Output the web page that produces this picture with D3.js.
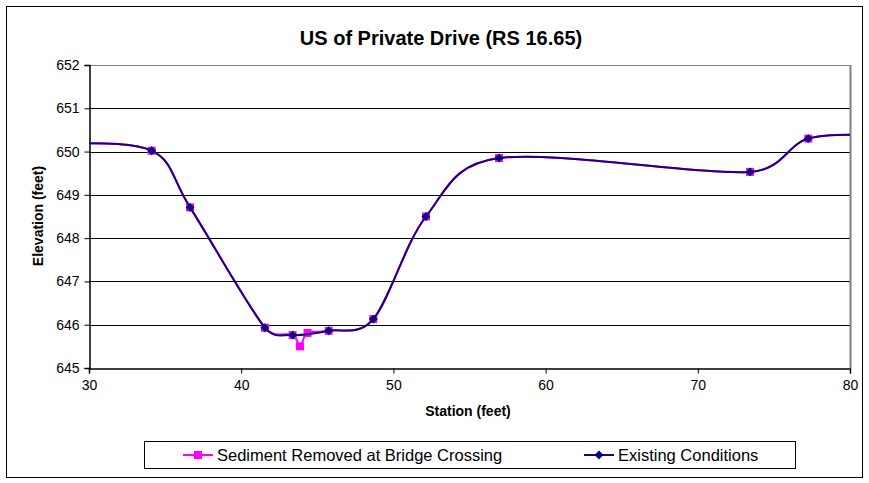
<!DOCTYPE html>
<html>
<head>
<meta charset="utf-8">
<script src="https://cdn.jsdelivr.net/npm/d3@7"></script>
<style>
  body { margin: 0; background: #fff; }
  text { font-family: "Liberation Sans", Arial, sans-serif; fill: #000; }
</style>
</head>
<body>
<div id="chart"></div>
<script>
// Series values (points outside 30-80 are clipped, like the original)
var sedimentStation = [28, 34.12, 36.64, 41.56, 43.38, 43.86, 44.36, 45.75, 48.68, 52.14, 56.94, 73.43, 77.26, 82];
var sedimentElev    = [650.2, 650.02, 648.71, 645.93, 645.76, 645.5, 645.81, 645.86, 646.13, 648.5, 649.85, 649.53, 650.3, 650.38];
var existingStation = [28, 34.12, 36.64, 41.56, 43.38, 45.75, 48.68, 52.14, 56.94, 73.43, 77.26, 82];
var existingElev    = [650.2, 650.02, 648.71, 645.93, 645.76, 645.86, 646.13, 648.5, 649.85, 649.53, 650.3, 650.38];
var xTicks = [30, 40, 50, 60, 70, 80];
var yTicks = [645, 646, 647, 648, 649, 650, 651, 652];
var seriesNames = ["Sediment Removed at Bridge Crossing", "Existing Conditions"];

var W = 869, H = 483;
var plot = { left: 89, right: 850, top: 65, bottom: 368 };

var svg = d3.select("#chart").append("svg")
  .attr("width", W)
  .attr("height", H);

// outer chart border
svg.append("rect")
  .attr("x", 6.5).attr("y", 6.5)
  .attr("width", 856).attr("height", 471)
  .attr("fill", "#fff")
  .attr("stroke", "#000")
  .attr("stroke-width", 1);

var x = d3.scaleLinear().domain([30, 80]).range([plot.left, plot.right]);
var y = d3.scaleLinear().domain([645, 652]).range([plot.bottom, plot.top]);

// gridlines
svg.append("g")
  .selectAll("line")
  .data(yTicks.slice(1))
  .enter().append("line")
  .attr("x1", plot.left).attr("x2", plot.right)
  .attr("y1", function(d) { return Math.round(y(d)) + 0.5; })
  .attr("y2", function(d) { return Math.round(y(d)) + 0.5; })
  .attr("stroke", function(d) { return d === 652 ? "#808080" : "#000"; })
  .attr("stroke-width", 1);

// right border of plot area
svg.append("line")
  .attr("x1", plot.right + 0.5).attr("x2", plot.right + 0.5)
  .attr("y1", plot.top).attr("y2", plot.bottom)
  .attr("stroke", "#808080")
  .attr("stroke-width", 2);

// axes
var xAxis = d3.axisBottom(x).tickValues(xTicks).tickSize(5).tickPadding(7);
var yAxis = d3.axisLeft(y).tickValues(yTicks).tickFormat(d3.format("d")).tickSize(5).tickPadding(5);

var gx = svg.append("g")
  .attr("transform", "translate(0," + (plot.bottom + 0.5) + ")")
  .call(xAxis);
var gy = svg.append("g")
  .attr("transform", "translate(" + (plot.left + 0.5) + ",0)")
  .call(yAxis);

[gx, gy].forEach(function(g) {
  g.selectAll("path, line").attr("stroke", "#000");
  g.selectAll("text")
    .style("font-family", "'Liberation Sans', Arial, sans-serif")
    .style("font-size", "14px")
    .attr("fill", "#000");
});
gx.select(".domain").attr("stroke-width", 1.5);
gy.select(".domain").attr("stroke-width", 1.5);

// clip the curves to the plot area
svg.append("clipPath").attr("id", "clip")
  .append("rect")
  .attr("x", plot.left).attr("y", plot.top - 2)
  .attr("width", plot.right - plot.left).attr("height", plot.bottom - plot.top + 4);

// Excel-style smoothed line: bezier arms of (next - prev) / 6,
// shortened to half the segment when the segment is short
function smoothPath(data) {
  var p = data.map(function(d) { return [x(d[0]), y(d[1])]; });
  var path = d3.path();
  function arm(i, seg) {
    var a = p[Math.max(i - 1, 0)], b = p[Math.min(i + 1, p.length - 1)];
    var dx = (b[0] - a[0]) / 6, dy = (b[1] - a[1]) / 6;
    var len = Math.hypot(dx, dy);
    if (len > seg / 2) { dx *= seg / 2 / len; dy *= seg / 2 / len; }
    return [dx, dy];
  }
  path.moveTo(p[0][0], p[0][1]);
  for (var i = 0; i < p.length - 1; i++) {
    var seg = Math.hypot(p[i + 1][0] - p[i][0], p[i + 1][1] - p[i][1]);
    var a1 = arm(i, seg), a2 = arm(i + 1, seg);
    path.bezierCurveTo(p[i][0] + a1[0], p[i][1] + a1[1],
      p[i + 1][0] - a2[0], p[i + 1][1] - a2[1],
      p[i + 1][0], p[i + 1][1]);
  }
  return path.toString();
}

var sediment = d3.zip(sedimentStation, sedimentElev);
var existing = d3.zip(existingStation, existingElev);

var plotG = svg.append("g").attr("clip-path", "url(#clip)");

plotG.append("path")
  .attr("d", smoothPath(sediment))
  .attr("fill", "none")
  .attr("stroke", "#ff00ff")
  .attr("stroke-width", 2);

plotG.selectAll(".sq")
  .data(sediment)
  .enter().append("rect")
  .attr("class", "sq")
  .attr("x", function(d) { return x(d[0]) - 4; })
  .attr("y", function(d) { return y(d[1]) - 4; })
  .attr("width", 8).attr("height", 8)
  .attr("fill", "#ff00ff");

plotG.append("path")
  .attr("d", smoothPath(existing))
  .attr("fill", "none")
  .attr("stroke", "#1f0080")
  .attr("stroke-width", 2);

var diamond = d3.symbol().type(d3.symbolDiamond2).size(50);
plotG.selectAll(".dm")
  .data(existing)
  .enter().append("path")
  .attr("class", "dm")
  .attr("d", diamond)
  .attr("transform", function(d) { return "translate(" + x(d[0]) + "," + y(d[1]) + ")"; })
  .attr("fill", "#000080");

// titles
svg.append("text")
  .attr("x", 441).attr("y", 45)
  .attr("text-anchor", "middle")
  .style("font-size", "20px")
  .style("font-weight", "bold")
  .text("US of Private Drive (RS 16.65)");

svg.append("text")
  .attr("x", 468).attr("y", 416)
  .attr("text-anchor", "middle")
  .style("font-size", "14px")
  .style("font-weight", "bold")
  .text("Station (feet)");

svg.append("text")
  .attr("transform", "translate(43,216) rotate(-90)")
  .attr("text-anchor", "middle")
  .style("font-size", "14px")
  .style("font-weight", "bold")
  .text("Elevation (feet)");

// legend
var legend = svg.append("g");
legend.append("rect")
  .attr("x", 144.5).attr("y", 441.5)
  .attr("width", 651).attr("height", 27)
  .attr("fill", "#fff")
  .attr("stroke", "#000");

var legendX = [183, 584];
var legendColors = ["#ff00ff", "#000080"];
seriesNames.forEach(function(name, i) {
  var lx = legendX[i];
  legend.append("line")
    .attr("x1", lx).attr("x2", lx + 30)
    .attr("y1", 455).attr("y2", 455)
    .attr("stroke", i === 0 ? "#ff00ff" : "#1f0080")
    .attr("stroke-width", 2);
  if (i === 0) {
    legend.append("rect")
      .attr("x", lx + 11).attr("y", 451)
      .attr("width", 8).attr("height", 8)
      .attr("fill", legendColors[i]);
  } else {
    legend.append("path")
      .attr("d", diamond)
      .attr("transform", "translate(" + (lx + 15) + ",455)")
      .attr("fill", legendColors[i]);
  }
  legend.append("text")
    .attr("x", lx + 34).attr("y", 461)
    .style("font-size", "16.5px")
    .text(name);
});
</script>
</body>
</html>
